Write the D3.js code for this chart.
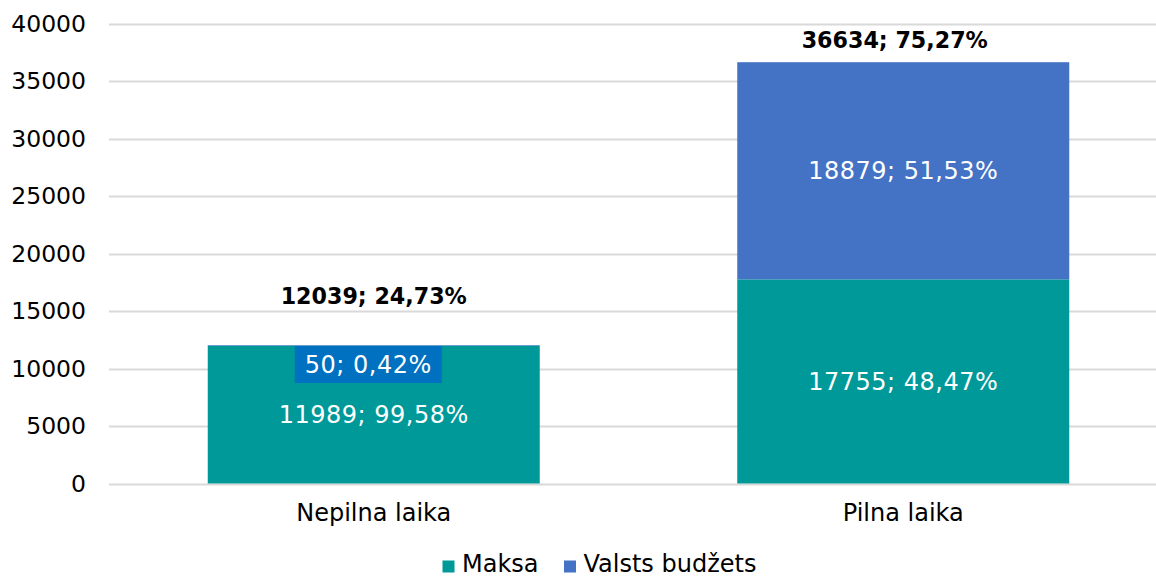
<!DOCTYPE html>
<html><head><meta charset="utf-8">
<script src="https://cdn.jsdelivr.net/npm/d3@7"></script>
<style>body{margin:0;background:#fff}svg{display:block;font-family:"DejaVu Sans",Verdana,sans-serif}</style>
</head><body><svg id="c" width="1156" height="578"></svg>
<script>
const categories = ["Nepilna laika", "Pilna laika"];
const seriesNames = ["Maksa", "Valsts budžets"];
const maksa = [11989, 17755];
const budzets = [50, 18879];
const maksaPct = ["99,58%", "48,47%"];
const budzetsPct = ["0,42%", "51,53%"];
const totals = [12039, 36634];
const totalPct = ["24,73%", "75,27%"];
const yTicks = [0, 5000, 10000, 15000, 20000, 25000, 30000, 35000, 40000];
const colors = ["#009999", "#4472C4"];

const FS = 24;
const svg = d3.select("#c");
const y = d3.scaleLinear().domain([0, 40000]).range([483.5, 23.5]);
const x = d3.scaleBand().domain(categories).range([109, 1168]).paddingInner(0.373).paddingOuter(0.1865);

// gridlines
svg.append("g").selectAll("line").data(yTicks).join("line")
  .attr("x1", 109).attr("x2", 1156)
  .attr("y1", d => Math.round(y(d)) + 0.5).attr("y2", d => Math.round(y(d)) + 0.5)
  .attr("stroke", "#d9d9d9").attr("stroke-width", 2);

// y axis labels
const yAxis = d3.axisLeft(y).tickValues(yTicks).tickSize(0).tickPadding(0).tickFormat(d3.format("d"));
const ya = svg.append("g").attr("transform", "translate(86,0)").call(yAxis);
ya.select(".domain").remove();
ya.selectAll("text").attr("font-size", 23.5).attr("fill", "#000").attr("font-family", "DejaVu Sans");

// stacked data
const rows = categories.map((c, i) => ({cat: c, Maksa: maksa[i], "Valsts budžets": budzets[i]}));
const stack = d3.stack().keys(seriesNames)(rows);

const g = svg.append("g");
stack.forEach((s, si) => {
  g.selectAll(null).data(s).join("rect")
    .attr("x", d => x(d.data.cat))
    .attr("width", x.bandwidth())
    .attr("y", d => y(d[1]))
    .attr("height", d => y(d[0]) - y(d[1]))
    .attr("fill", colors[si]);
});

// segment labels
const lab = svg.append("g").attr("font-size", FS).attr("letter-spacing", "0.5px").attr("text-anchor", "middle").attr("fill", "#fff");
stack[0].forEach((d, i) => {
  lab.append("text").attr("x", x(d.data.cat) + x.bandwidth()/2)
    .attr("y", (y(d[0]) + y(d[1]))/2).attr("dy", "0.36em")
    .text(`${maksa[i]}; ${maksaPct[i]}`);
});
stack[1].forEach((d, i) => {
  const small = (y(d[0]) - y(d[1])) < 30;
  const cx = x(d.data.cat) + x.bandwidth()/2 - (small ? 5.5 : 0);
  const cy = small ? y(d[1]) + 19.5 : (y(d[0]) + y(d[1]))/2;
  lab.append("text").attr("x", cx).attr("y", cy).attr("dy", "0.36em")
    .text(`${budzets[i]}; ${budzetsPct[i]}`);
  if (small) {
    lab.insert("rect", "text").attr("x", cx - 73.5).attr("y", cy - 18.5)
      .attr("width", 147).attr("height", 37).attr("fill", "#0070C0");
  }
});

// total labels
const totOffsets = [49, 22];
const totShift = [0, -8.5];
svg.append("g").attr("font-size", 22.2).attr("font-weight", "bold").attr("text-anchor", "middle")
  .selectAll("text").data(categories).join("text")
  .attr("x", (d, i) => x(d) + x.bandwidth()/2 + totShift[i])
  .attr("y", (d, i) => y(totals[i]) - totOffsets[i]).attr("dy", "0.36em")
  .text((d, i) => `${totals[i]}; ${totalPct[i]}`);

// x axis labels
const xAxis = d3.axisBottom(x).tickSize(0).tickPadding(0);
const xa = svg.append("g").attr("transform", "translate(0,504)").call(xAxis);
xa.select(".domain").remove();
xa.selectAll("text").attr("font-size", FS).attr("fill", "#000").attr("font-family", "DejaVu Sans");

// legend
const leg = svg.append("g").attr("font-size", FS);
const legX = [442.5, 564];
seriesNames.forEach((n, i) => {
  leg.append("rect").attr("x", legX[i]).attr("y", 560.5).attr("width", 12).attr("height", 12).attr("fill", colors[i]);
  leg.append("text").attr("x", legX[i] + 19.5).attr("y", 572).attr("fill", "#000").text(n);
});
</script></body></html>
